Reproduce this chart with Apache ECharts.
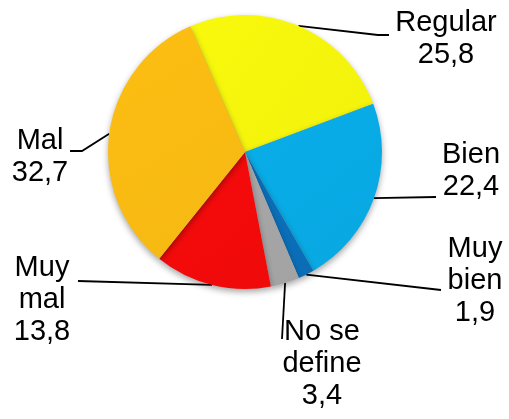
<!DOCTYPE html>
<html>
<head>
<meta charset="utf-8">
<script src="https://cdn.jsdelivr.net/npm/echarts@6/dist/echarts.min.js"></script>
<style>
  html, body { margin: 0; padding: 0; background: #fff; }
  #chartdiv { width: 509px; height: 419px; }
</style>
</head>
<body>
<div id="chartdiv"></div>
<script>
// data
const categories = ['Regular', 'Bien', 'Muy bien', 'No se define', 'Muy mal', 'Mal'];
const labelNames = ['Regular', 'Bien', 'Muy\nbien', 'No se\ndefine', 'Muy\nmal', 'Mal'];
const values = [25.8, 22.4, 1.9, 3.4, 13.8, 32.7];
const colors = ['#f2f20c', '#08a8e2', '#0a6db6', '#a3a3a3', '#f00a0a', '#f6b912'];

// label placement (text centre) and leader line bends
const labelPos = [[446, 39], [471, 171], [475, 281], [322, 364], [42, 300], [40, 157]];
const lineBends = [
  [[378, 35], [389, 35]],
  [[436, 197]],
  [[441, 290]],
  [[282, 339]],
  [[78, 281]],
  [[82, 151], [70, 151]]
];

var dom = document.getElementById('chartdiv');
var myChart = echarts.init(dom, null, { renderer: 'canvas' });

var option = {
  backgroundColor: '#fff',
  animation: false,
  series: [
    {
      type: 'pie',
      center: [245, 152],
      radius: 137,
      startAngle: 113.5,
      clockwise: true,
      avoidLabelOverlap: false,
      itemStyle: {
        shadowColor: 'rgba(0,0,0,0.35)',
        shadowBlur: 6,
        shadowOffsetY: 3
      },
      label: {
        show: true,
        position: 'outside',
        color: '#000',
        fontFamily: 'Liberation Sans, Arial, sans-serif',
        fontSize: 29,
        lineHeight: 32,
        align: 'center',
        formatter: p => labelNames[p.dataIndex] + '\n' + String(p.value).replace('.', ',')
      },
      labelLine: {
        show: true,
        lineStyle: { color: '#000', width: 1.8 }
      },
      labelLayout: function (params) {
        let i = params.dataIndex;
        let start = params.labelLinePoints ? params.labelLinePoints[0] : null;
        let res = {
          x: labelPos[i][0],
          y: labelPos[i][1],
          align: 'center',
          verticalAlign: 'middle'
        };
        if (start) res.labelLinePoints = [start].concat(lineBends[i]);
        return res;
      },
      data: categories.map((c, i) => ({
        name: c,
        value: values[i],
        itemStyle: {
          color: new echarts.graphic.LinearGradient(0, 0, 1, 1, [
            { offset: 0, color: echarts.color.lift(colors[i], -0.03) },
            { offset: 1, color: colors[i] }
          ])
        }
      }))
    }
  ]
};

if (option && typeof option === 'object') {
  myChart.setOption(option);
}

window.addEventListener('resize', myChart.resize);
</script>
</body>
</html>
